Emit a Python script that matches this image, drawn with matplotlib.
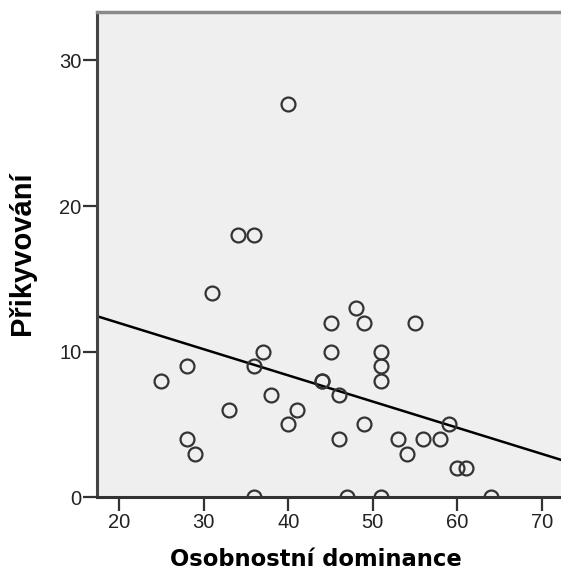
import numpy as np
import matplotlib.pyplot as plt

# Osobnostní dominance vs. přikyvování
dominance = [25, 28, 28, 29, 31, 33, 34, 36, 36, 36, 37, 38, 40, 40, 41, 44, 44,
             45, 45, 46, 46, 47, 48, 49, 49, 51, 51, 51, 51, 53, 54, 55, 56, 58,
             59, 60, 61, 64]
prikyvovani = [8, 4, 9, 3, 14, 6, 18, 18, 9, 0, 10, 7, 27, 5, 6, 8, 8,
               12, 10, 7, 4, 0, 13, 12, 5, 10, 9, 8, 0, 4, 3, 12, 4, 4,
               5, 2, 2, 0]
xticks = [20, 30, 40, 50, 60, 70]
yticks = [0, 10, 20, 30]

x = np.array(dominance, dtype=float)
y = np.array(prikyvovani, dtype=float)
b, a = np.polyfit(x, y, 1)

W, H = 561, 586
fig = plt.figure(figsize=(W / 100, H / 100), dpi=100)
left, top, bottom = 97, 12, 497.3
ax = fig.add_axes([left / W, 1 - bottom / H, (W - left) / W, (bottom - top) / H])
ax.set_facecolor('#efefef')

xmin, xmax = 17.37, 72.27
ax.set_xlim(xmin, xmax)
ax.set_ylim(0, 33.33)

ax.plot(x, y, 'o', ms=10, mfc='none', mec='#333333', mew=1.6, zorder=3)
xs = np.array([xmin, xmax])
ax.plot(xs, a + b * xs, color='black', lw=1.8, zorder=2)

ax.spines['right'].set_visible(False)
ax.spines['top'].set_color('#8a8a8a')
ax.spines['top'].set_linewidth(2.5)
ax.spines['left'].set_color('#444444')
ax.spines['left'].set_linewidth(2.2)
ax.spines['bottom'].set_color('#333333')
ax.spines['bottom'].set_linewidth(2.2)

ax.set_xticks(xticks)
ax.set_yticks(yticks)
ax.tick_params(direction='out', length=10, width=1.6, color='#333333',
               labelsize=14.5, labelcolor='#222222', pad=1.2)
for lab in ax.get_xticklabels() + ax.get_yticklabels():
    lab.set_family('Liberation Sans')

ax.set_xlabel('Osobnostní dominance', fontsize=16.3, fontweight='bold',
              family='DejaVu Sans')
ax.xaxis.set_label_coords(0.472, -0.104)
ax.set_ylabel('Přikyvování', fontsize=21, fontweight='bold',
              family='Liberation Sans')
ax.yaxis.set_label_coords(-0.131, 0.502)

fig.savefig('out.png', dpi=100)
